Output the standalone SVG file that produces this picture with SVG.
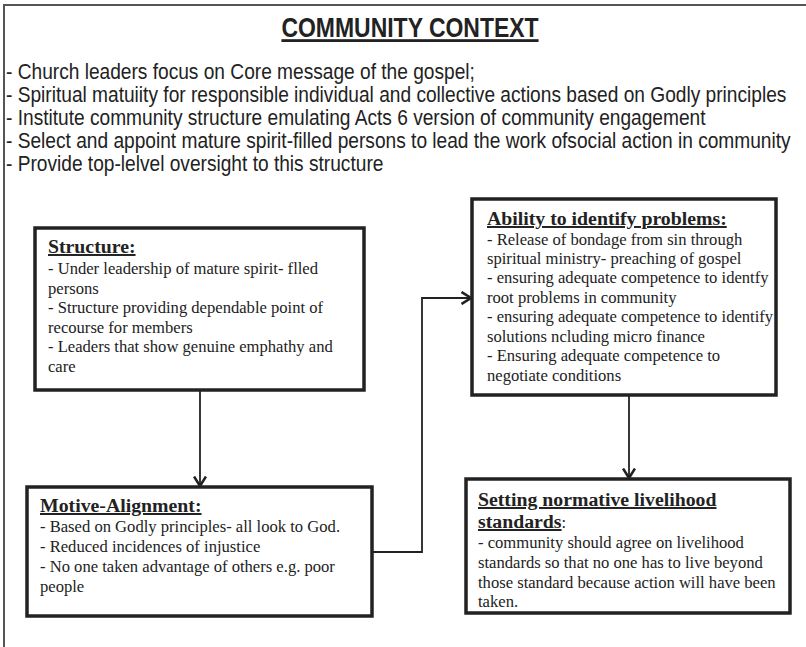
<svg xmlns="http://www.w3.org/2000/svg" width="806" height="647" viewBox="0 0 806 647">
<defs>
<style>
.frame{fill:none;stroke:#555;stroke-width:2}
.box{fill:#fff;stroke:#222;stroke-width:3.5}
.conn{fill:none;stroke:#222;stroke-width:1.8}
.sans{font-family:"Liberation Sans",Arial,sans-serif;fill:#222}
.serif{font-family:"Liberation Serif","Times New Roman",serif;fill:#222;font-size:16.6px}
.head{font-weight:bold;font-size:19.8px;text-decoration:underline}
</style>
<marker id="arr" viewBox="0 0 12 14" refX="10.5" refY="7" markerWidth="12" markerHeight="14" markerUnits="userSpaceOnUse" orient="auto">
<path d="M1,1 L10.5,7 L1,13" fill="none" stroke="#222" stroke-width="2.6"/>
</marker>
</defs>
<rect width="806" height="647" fill="#fff"/>
<rect class="frame" x="4" y="5" width="830" height="700"/>
<g id="context">
<g transform="translate(410,37) scale(0.82,1)">
<text class="sans" x="0" y="0" font-size="28" font-weight="bold" text-anchor="middle" text-decoration="underline">COMMUNITY CONTEXT</text>
</g>
<g transform="translate(6,0) scale(0.89,1)" class="sans" font-size="21.5">
<text x="0" y="79">- Church leaders focus on Core message of the gospel;</text>
<text x="0" y="102">- Spiritual matuiity for responsible individual and collective actions based on Godly principles</text>
<text x="0" y="125">- Institute community structure emulating Acts 6 version of community engagement</text>
<text x="0" y="148">- Select and appoint mature spirit-filled persons to lead the work ofsocial action in community</text>
<text x="0" y="171">- Provide top-lelvel oversight to this structure</text>
</g>
</g>
<g id="connectors">
<line class="conn" x1="200" y1="390" x2="200" y2="486" marker-end="url(#arr)"/>
<polyline class="conn" points="372,552 422,552 422,298 471,298" marker-end="url(#arr)"/>
<line class="conn" x1="629" y1="395" x2="629" y2="478" marker-end="url(#arr)"/>
</g>
<g id="structure">
<rect class="box" x="35" y="228" width="329" height="162"/>
<text class="serif">
<tspan class="head" x="48" y="253">Structure:</tspan>
<tspan x="48" y="274">- Under leadership of mature spirit- flled</tspan>
<tspan x="48" y="293.6">persons</tspan>
<tspan x="48" y="313.2">- Structure providing dependable point of</tspan>
<tspan x="48" y="332.8">recourse for members</tspan>
<tspan x="48" y="352.4">- Leaders that show genuine emphathy and</tspan>
<tspan x="48" y="372">care</tspan>
</text>
</g>
<g id="motive">
<rect class="box" x="27" y="487" width="345" height="129"/>
<text class="serif">
<tspan class="head" x="40" y="512">Motive-Alignment:</tspan>
<tspan x="40" y="532">- Based on Godly principles- all look to God.</tspan>
<tspan x="40" y="552">- Reduced incidences of injustice</tspan>
<tspan x="40" y="572">- No one taken advantage of others e.g. poor</tspan>
<tspan x="40" y="592">people</tspan>
</text>
</g>
<g id="ability">
<rect class="box" x="472" y="199" width="304" height="196"/>
<text class="serif">
<tspan class="head" x="487" y="225">Ability to identify problems:</tspan>
<tspan x="487" y="245">- Release of bondage from sin through</tspan>
<tspan x="487" y="264">spiritual ministry- preaching of gospel</tspan>
<tspan x="487" y="283">- ensuring adequate competence to identfy</tspan>
<tspan x="487" y="302.5">root problems in community</tspan>
<tspan x="487" y="322">- ensuring adequate competence to identify</tspan>
<tspan x="487" y="341.5">solutions ncluding micro finance</tspan>
<tspan x="487" y="361">- Ensuring adequate competence to</tspan>
<tspan x="487" y="380.5">negotiate conditions</tspan>
</text>
</g>
<g id="setting">
<rect class="box" x="466" y="479" width="324" height="134"/>
<text class="serif">
<tspan class="head" x="478" y="506">Setting normative livelihood</tspan>
<tspan x="478" y="528"><tspan class="head">standards</tspan>:</tspan>
<tspan x="478" y="548">- community should agree on livelihood</tspan>
<tspan x="478" y="568">standards so that no one has to live beyond</tspan>
<tspan x="478" y="588">those standard because action will have been</tspan>
<tspan x="478" y="607">taken.</tspan>
</text>
</g>
</svg>
